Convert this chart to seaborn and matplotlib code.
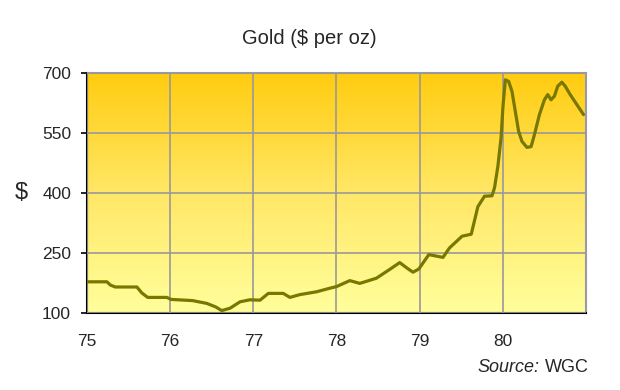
import numpy as np
import seaborn as sns
import matplotlib.pyplot as plt
from matplotlib.colors import LinearSegmentedColormap

# gold price (x = year 19xx, y = $ per oz)
years = [75.00, 75.24, 75.28, 75.34, 75.60, 75.66, 75.73, 75.96, 76.01, 76.27,
         76.44, 76.55, 76.62, 76.72, 76.84, 76.96, 77.08, 77.18, 77.36, 77.44,
         77.56, 77.76, 77.92, 78.00, 78.16, 78.28, 78.48, 78.64, 78.76, 78.85,
         78.92, 78.99, 79.11, 79.28, 79.36, 79.51, 79.62, 79.70, 79.78, 79.87,
         79.90, 79.94, 79.98, 80.00, 80.03, 80.07, 80.11, 80.15, 80.19, 80.23,
         80.29, 80.34, 80.38, 80.44, 80.50, 80.54, 80.58, 80.62, 80.66, 80.71,
         80.75, 80.81, 80.89, 80.97]
prices = [178, 178, 170, 165, 165, 150, 139, 139, 134, 131,
          124, 115, 106, 112, 128, 133, 132, 149, 149, 139,
          146, 153, 162, 166, 181, 174, 187, 209, 226, 212,
          202, 210, 246, 239, 263, 292, 297, 366, 392, 393,
          413, 466, 541, 612, 683, 679, 654, 604, 554, 529,
          514, 516, 546, 596, 633, 646, 633, 642, 667, 677,
          667, 646, 621, 596]

x_ticks = [75, 76, 77, 78, 79, 80]
y_ticks = [100, 250, 400, 550, 700]

sns.set_style("white")
plt.rcParams["font.family"] = ["Liberation Sans", "DejaVu Sans"]

fig = plt.figure(figsize=(6.2, 3.9), dpi=100)
ax = fig.add_axes([87 / 620, 77 / 390, 499 / 620, 240 / 390])

# yellow gradient background
grad_cmap = LinearSegmentedColormap.from_list("gold_bg", ["#FFFF9C", "#FFE766", "#FFCC10"])
grad = np.linspace(0, 1, 256).reshape(-1, 1)
ax.imshow(grad, cmap=grad_cmap, origin="lower", aspect="auto",
          extent=[0, 1, 0, 1], transform=ax.transAxes, zorder=0)

sns.lineplot(x=years, y=prices, color="#787800", linewidth=2.3, ax=ax, zorder=3)

ax.set_xlim(75, 81)
ax.set_ylim(100, 700)
ax.set_xticks(x_ticks)
ax.set_yticks(y_ticks)
ax.set_xticklabels([str(t) for t in x_ticks])
ax.grid(True, color="#999999", linewidth=1.2, zorder=1)
ax.set_axisbelow(False)
for line in ax.get_xgridlines() + ax.get_ygridlines():
    line.set_zorder(1)

ax.tick_params(axis="y", length=4.5, width=1.2, color="black", pad=7,
               labelsize=12.5, direction="out", left=True)
ax.tick_params(axis="x", length=0, pad=15, labelsize=12.5)

for side in ["left", "bottom"]:
    ax.spines[side].set_color("black")
    ax.spines[side].set_linewidth(1.5)
for side in ["top", "right"]:
    ax.spines[side].set_color("#9999A8")
    ax.spines[side].set_linewidth(1.5)

ax.set_xlabel("")
ax.set_ylabel("")

fig.text(309 / 620, 1 - 38 / 390, "Gold ($ per oz)", ha="center", va="center", fontsize=14.5)
fig.text(21 / 620, 1 - 193 / 390, "$", ha="center", va="center", fontsize=17)

wgc = fig.text(589 / 620, 1 - 367 / 390, "WGC", ha="right", va="center", fontsize=13)
fig.canvas.draw()
bb = wgc.get_window_extent()
fig.text((bb.x0 - 6) / 620, 1 - 367 / 390, "Source:", ha="right", va="center",
         fontsize=13, style="italic")

fig.savefig("out.png", dpi=100)
